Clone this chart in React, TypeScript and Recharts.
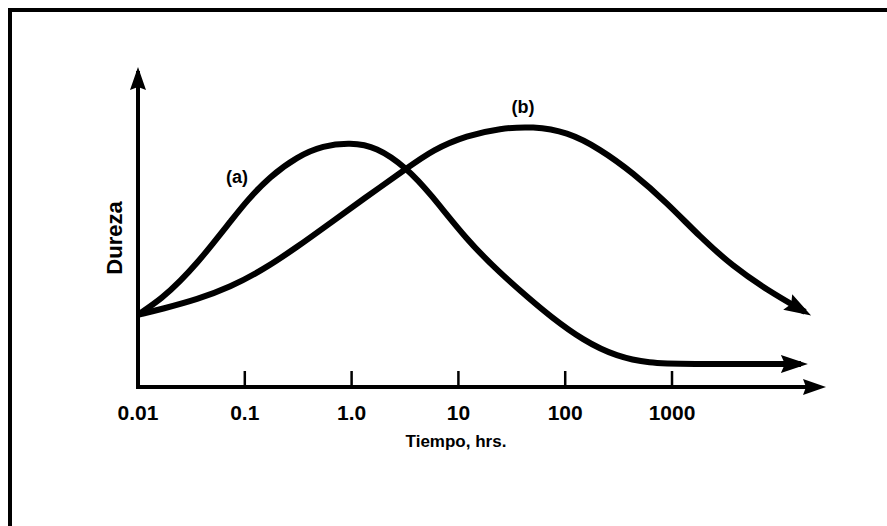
import { LineChart, Line, XAxis, YAxis, ReferenceDot } from 'recharts';

// curve (a): time in hours vs. hardness (arbitrary units)
const tiempoA = [0.01, 0.017, 0.025, 0.036, 0.05, 0.073, 0.105, 0.17, 0.31, 0.54, 0.97, 1.7, 3.3, 5.4, 12, 24.5, 47, 72, 147, 306, 620, 1200, 16100];
const durezaA = [23, 28.4, 33.8, 39.6, 45.6, 52.6, 59.4, 66.9, 73.4, 76.9, 77.8, 76.6, 69.7, 61.8, 46.8, 36.3, 27.9, 22.6, 14.8, 9.6, 7.6, 7.3, 7.3];

// curve (b)
const tiempoB = [0.01, 0.017, 0.036, 0.073, 0.148, 0.31, 0.63, 1.28, 3.3, 5.8, 12, 24.5, 50, 104, 212, 431, 900, 1830, 3720, 7760, 17600];
const durezaB = [23, 24.9, 27.9, 31.8, 37.3, 44.6, 52.2, 59.8, 69.7, 75.6, 80.1, 82.4, 83, 81.3, 75.8, 68.2, 58.6, 47.8, 38.4, 30.9, 23.9];

const tickValues = [0.01, 0.1, 1, 10, 100, 1000];
const tickLabels = ['0.01', '0.1', '1.0', '10', '100', '1000'];

const X_MAX = 24300;

const dataA = tiempoA.map((t, i) => ({ t, h: durezaA[i] }));
const dataB = tiempoB.map((t, i) => ({ t, h: durezaB[i] }));

const FONT = '"Liberation Sans", Arial, Helvetica, sans-serif';

const TimeTick = (props: any) => {
  const { x, y, payload } = props;
  const idx = tickValues.indexOf(payload.value);
  return (
    <g>
      {idx > 0 && <line x1={x} x2={x} y1={y - 16} y2={y} stroke="#000" strokeWidth={2.5} />}
      <text x={x} y={y + 33} textAnchor="middle" fill="#000" fontSize={21} fontWeight={700} fontFamily={FONT}>
        {tickLabels[idx]}
      </text>
    </g>
  );
};

const XLabel = (props: any) => {
  const { viewBox } = props;
  const cx = viewBox.x + viewBox.width / 2 - 23;
  return (
    <text x={cx} y={viewBox.y + 60} textAnchor="middle" fill="#000" fontSize={17} fontWeight={700} fontFamily={FONT}>
      Tiempo, hrs.
    </text>
  );
};

const YLabel = (props: any) => {
  const { viewBox } = props;
  const cx = viewBox.x + viewBox.width - 24;
  const cy = viewBox.y + viewBox.height / 2 + 8;
  return (
    <text
      transform={`translate(${cx},${cy}) rotate(-90)`}
      textAnchor="middle"
      dy="0.36em"
      fill="#000"
      fontSize={22}
      fontWeight={700}
      fontFamily={FONT}
    >
      Dureza
    </text>
  );
};

export default function App() {
  return (
    <div style={{ position: 'fixed', left: 0, top: 0, width: 887, height: 526, background: '#fff', fontFamily: FONT }}>
      <div
        style={{
          position: 'absolute',
          left: 8,
          top: 8,
          width: 879,
          height: 518,
          boxSizing: 'border-box',
          borderTop: '4px solid #000',
          borderLeft: '4px solid #000',
        }}
      />
      <svg width={0} height={0} style={{ position: 'absolute' }}>
        <defs>
          <marker id="curveArrow" markerUnits="userSpaceOnUse" markerWidth={28} markerHeight={20} refX={20} refY={9} orient="auto">
            <path d="M0,0 L27,9 L0,18 L4,9 Z" fill="#000" />
          </marker>
          <marker id="axisArrow" markerUnits="userSpaceOnUse" markerWidth={24} markerHeight={18} refX={17} refY={8} orient="auto-start-reverse">
            <path d="M0,0 L23,8 L0,16 L3,8 Z" fill="#000" />
          </marker>
        </defs>
      </svg>
      <div style={{ position: 'absolute', left: 0, top: 0 }}>
        <LineChart width={887} height={526} margin={{ top: 73, right: 67, bottom: 89, left: 108 }}>
          <XAxis
            type="number"
            dataKey="t"
            scale="log"
            domain={[0.01, X_MAX]}
            allowDataOverflow
            ticks={tickValues}
            interval={0}
            height={50}
            tickSize={0}
            tickMargin={0}
            tickLine={false}
            tick={<TimeTick />}
            axisLine={{ stroke: '#000', strokeWidth: 4, markerEnd: 'url(#axisArrow)' } as any}
            label={<XLabel />}
          />
          <YAxis
            type="number"
            dataKey="h"
            domain={[0, 100]}
            width={30}
            tick={false}
            tickLine={false}
            axisLine={{ stroke: '#000', strokeWidth: 4, strokeLinecap: 'square', markerStart: 'url(#axisArrow)' } as any}
            label={<YLabel />}
          />
          <Line
            data={dataA}
            dataKey="h"
            type="basis"
            stroke="#000"
            strokeWidth={6}
            dot={false}
            activeDot={false}
            markerEnd="url(#curveArrow)"
            isAnimationActive={false}
          />
          <Line
            data={dataB}
            dataKey="h"
            type="basis"
            stroke="#000"
            strokeWidth={6}
            dot={false}
            activeDot={false}
            markerEnd="url(#curveArrow)"
            isAnimationActive={false}
          />
          <ReferenceDot
            x={0.0845}
            y={66.9}
            r={0}
            fill="none"
            stroke="none"
            label={{ value: '(a)', position: 'center', fill: '#000', fontSize: 18, fontWeight: 700, fontFamily: FONT }}
          />
          <ReferenceDot
            x={40.3}
            y={89.2}
            r={0}
            fill="none"
            stroke="none"
            label={{ value: '(b)', position: 'center', fill: '#000', fontSize: 18, fontWeight: 700, fontFamily: FONT }}
          />
        </LineChart>
      </div>
    </div>
  );
}
